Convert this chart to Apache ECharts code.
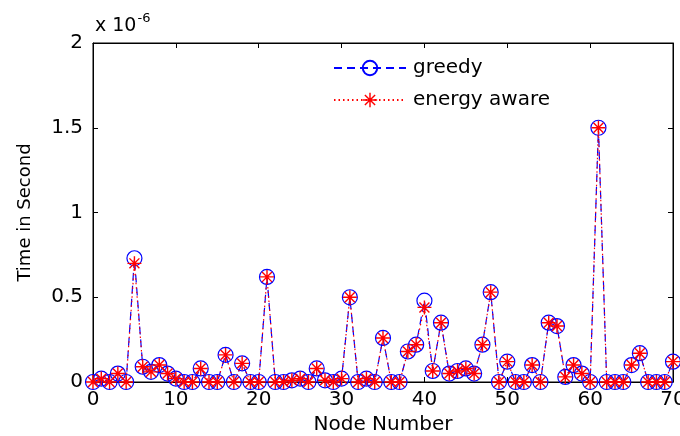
<!DOCTYPE html>
<html>
<head>
<meta charset="utf-8">
<script src="https://cdn.jsdelivr.net/npm/echarts@6/dist/echarts.min.js"></script>
<style>
  html, body { margin: 0; padding: 0; background: #fff; }
  #chart { width: 680px; height: 436px; }
</style>
</head>
<body>
<div id="chart"></div>
<script>
// Node index along the x axis
var nodes = [0,1,2,3,4,5,6,7,8,9,10,11,12,13,14,15,16,17,18,19,20,
             21,22,23,24,25,26,27,28,29,30,31,32,33,34,35,36,37,38,39,40,
             41,42,43,44,45,46,47,48,49,50,51,52,53,54,55,56,57,58,59,60,
             61,62,63,64,65,66,67,68,69,70];

// Time per node, in units of 1e-6 s
var greedy = [0,0.02,0,0.05,0,0.73,0.09,0.06,0.10,0.05,0.02,0,0,0.08,0,0,0.16,0,0.11,0,0,
              0.62,0,0,0.01,0.02,0,0.08,0.01,0,0.02,0.50,0,0.02,0,0.26,0,0,0.18,0.22,0.48,
              0.065,0.35,0.05,0.065,0.08,0.05,0.22,0.53,0,0.12,0,0,0.10,0,0.35,0.33,0.03,0.10,0.05,0,
              1.50,0,0,0,0.10,0.17,0,0,0,0.12];

var energyAware = [0,0.02,0,0.05,0,0.70,0.09,0.06,0.10,0.05,0.02,0,0,0.08,0,0,0.16,0,0.11,0,0,
                   0.62,0,0,0.01,0.02,0,0.08,0.01,0,0.02,0.50,0,0.02,0,0.26,0,0,0.18,0.22,0.44,
                   0.065,0.35,0.05,0.065,0.08,0.05,0.22,0.53,0,0.12,0,0,0.10,0,0.35,0.33,0.03,0.10,0.05,0,
                   1.50,0,0,0,0.10,0.17,0,0,0,0.12];

var xTicks = [0,10,20,30,40,50,60,70];
var yTicks = [0,0.5,1,1.5,2];

var FONT = 'DejaVu Sans';
var BLUE = '#0000ff';
var RED = '#ff0000';

// asterisk marker: plus + cross made of thin bars
var asterisk = 'path://M0 9H20V11H0Z M9 0H11V20H9Z ' +
  'M2.2 3.6L3.6 2.2L17.8 16.4L16.4 17.8Z M16.4 2.2L17.8 3.6L3.6 17.8L2.2 16.4Z';

function pairs(ys) {
  return nodes.map(function (n, i) { return [n, ys[i]]; });
}

var axisLine = { show: true, onZero: false, lineStyle: { color: '#000', width: 1 } };
var axisTick = { show: true, inside: true, length: 5, lineStyle: { color: '#000', width: 1 } };
var tickLabel = { color: '#000', fontFamily: FONT, fontSize: 20 };

var chart = echarts.init(document.getElementById('chart'), null, { renderer: 'canvas' });
chart.setOption({
  backgroundColor: '#fff',
  animation: false,
  grid: { left: 93, right: 7, top: 43, bottom: 54, containLabel: false, outerBoundsMode: 'none',
          show: true, borderColor: '#000', borderWidth: 1, backgroundColor: 'transparent' },
  xAxis: [{
    type: 'value', min: 0, max: 70, interval: 10,
    axisLine: axisLine, axisTick: axisTick, splitLine: { show: false },
    axisLabel: Object.assign({ margin: 8, showMaxLabel: true, hideOverlap: false,
      formatter: function (v) { return xTicks.indexOf(v) >= 0 ? String(v) : ''; } }, tickLabel),
    name: 'Node Number', nameLocation: 'middle', nameGap: 32,
    nameTextStyle: { color: '#000', fontFamily: FONT, fontSize: 20 }
  }, {
    type: 'value', min: 0, max: 70, interval: 10, position: 'top',
    axisLine: axisLine, axisTick: axisTick, axisLabel: { show: false }, splitLine: { show: false }
  }],
  yAxis: [{
    type: 'value', min: 0, max: 2, interval: 0.5,
    axisLine: axisLine, axisTick: axisTick, splitLine: { show: false },
    axisLabel: Object.assign({ margin: 10,
      formatter: function (v) { return yTicks.indexOf(v) >= 0 ? String(v) : ''; } }, tickLabel),
    name: 'Time in Second', nameLocation: 'middle', nameGap: 59,
    nameTextStyle: { color: '#000', fontFamily: FONT, fontSize: 18 }
  }, {
    type: 'value', min: 0, max: 2, interval: 0.5, position: 'right',
    axisLine: axisLine, axisTick: axisTick, axisLabel: { show: false }, splitLine: { show: false }
  }],
  legend: {
    left: 328, top: 53, orient: 'vertical', itemGap: 12,
    itemWidth: 72, itemHeight: 18,
    textStyle: { color: '#000', fontFamily: FONT, fontSize: 20, padding: [0, 0, 0, 2] },
    data: ['greedy', 'energy aware']
  },
  series: [{
    name: 'greedy', type: 'line', xAxisIndex: 0, yAxisIndex: 0,
    data: pairs(greedy),
    symbol: 'circle', symbolSize: 15, showAllSymbol: true,
    itemStyle: { color: 'rgba(255,255,255,0)', borderColor: BLUE, borderWidth: 1.2 },
    lineStyle: { color: BLUE, width: 1.2, type: [8, 5] },
    z: 2
  }, {
    name: 'energy aware', type: 'line', xAxisIndex: 1, yAxisIndex: 1,
    data: pairs(energyAware),
    symbol: asterisk, symbolSize: 14, showAllSymbol: true,
    itemStyle: { color: RED, borderWidth: 0 },
    lineStyle: { color: RED, width: 1.2, type: [1.5, 3] },
    z: 3
  }],
  graphic: [{
    type: 'text', left: 95, top: 12,
    style: {
      text: '{b|x 10}{s|-6}',
      rich: {
        b: { fontFamily: FONT, fontSize: 19, fill: '#000', verticalAlign: 'bottom', lineHeight: 24 },
        s: { fontFamily: FONT, fontSize: 13, fill: '#000', verticalAlign: 'top', lineHeight: 24, padding: [0, 0, 10, 1] }
      }
    }
  }]
});
</script>
</body>
</html>
